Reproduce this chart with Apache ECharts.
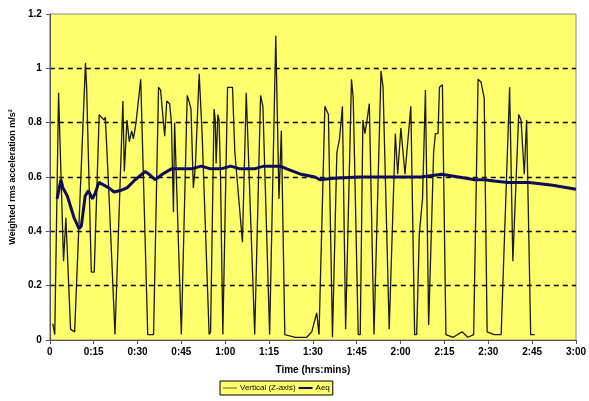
<!DOCTYPE html>
<html>
<head>
<meta charset="utf-8">
<script src="https://cdn.jsdelivr.net/npm/echarts@6/dist/echarts.min.js"></script>
<style>
  html, body { margin: 0; padding: 0; background: #fff; }
  #chart { width: 589px; height: 401px; }
</style>
</head>
<body>
<div id="chart"></div>
<script>
// time in minutes, values in m/s2
const vertTime = [1.0, 1.7, 3.0, 4.7, 5.5, 7.1, 8.5, 12.2, 12.6, 14.2, 15.2, 16.9, 17.6, 18.6, 19.0, 20.3, 20.6, 22.3,
  25.0, 25.5, 26.4, 27.2, 28.0, 28.6, 29.5, 31.1, 33.5, 35.5, 37.2, 37.9, 39.3, 40.0, 41.0, 41.6, 42.3, 42.7, 43.2,
  45.0, 47.0, 47.6, 48.3, 49.1, 49.8, 51.1, 52.1, 54.5, 55.0, 56.2, 56.6, 56.9, 57.5, 57.9, 58.4, 59.2,
  60.8, 62.5, 63.3, 65.9, 67.2, 70.1, 72.1, 72.9, 75.2, 77.3, 78.4, 79.2, 80.4, 84.0, 87.9, 89.6, 91.3, 92.1,
  94.1, 94.9, 95.3, 96.7, 97.3, 98.2, 99.1, 100.1, 101.2, 103.2, 103.8, 105.5, 106.2, 107.1, 107.8, 108.4, 109.3,
  110.9, 113.3, 114.0, 116.1, 118.2, 119.0, 120.1, 121.5, 123.5, 124.8, 125.5, 126.4, 127.5, 128.5, 129.6,
  131.3, 131.9, 132.8, 133.3, 134.3, 135.5, 138.0, 141.0, 143.0, 145.0, 146.5, 147.5, 148.6, 149.6, 152.0, 154.4,
  157.3, 158.4, 160.4, 161.2, 162.3, 163.1, 163.6, 164.5, 165.9];
const vertValue = [0.06, 0.02, 0.91, 0.29, 0.45, 0.04, 0.03, 1.02, 0.93, 0.25, 0.25, 0.83, 0.82, 0.81, 0.82, 0.52, 0.52, 0.02,
  0.88, 0.62, 0.81, 0.73, 0.77, 0.74, 0.80, 0.96, 0.02, 0.02, 0.93, 0.92, 0.75, 0.88, 0.87, 0.80, 0.47, 0.80, 0.80,
  0.02, 0.90, 0.88, 0.85, 0.56, 0.64, 0.98, 0.76, 0.02, 0.03, 0.85, 0.81, 0.65, 0.83, 0.81, 0.60, 0.02,
  0.93, 0.93, 0.69, 0.36, 0.91, 0.02, 0.90, 0.86, 0.02, 1.12, 0.52, 0.77, 0.02, 0.01, 0.01, 0.03, 0.10, 0.02,
  0.86, 0.84, 0.83, 0.01, 0.01, 0.69, 0.74, 0.86, 0.04, 0.96, 0.89, 0.02, 0.02, 0.81, 0.76, 0.80, 0.87,
  0.02, 0.99, 0.93, 0.04, 0.76, 0.61, 0.78, 0.61, 0.86, 0.02, 0.02, 0.39, 0.52, 0.92, 0.055,
  0.69, 0.76, 0.76, 0.93, 0.94, 0.02, 0.01, 0.03, 0.01, 0.02, 0.96, 0.95, 0.89, 0.03, 0.02, 0.02,
  0.93, 0.29, 0.83, 0.81, 0.61, 0.81, 0.81, 0.02, 0.02];

const aeqTime = [2.5, 3.8, 4.5, 6.0, 8.3, 10.0, 10.8, 12.1, 13.2, 14.6, 15.5, 16.8, 18.5, 20.2, 22.0, 24.1, 26.4, 29.2,
  32.6, 34.0, 36.0, 38.5, 41.6, 45.6, 48.5, 51.8, 55.0, 58.5, 61.9, 65.0, 70.0, 73.2, 78.8, 81.1, 86.0, 90.7, 92.4,
  97.0, 105.9, 113.8, 120.0, 127.0, 134.1, 139.8, 145.4, 148.8, 152.0, 156.7, 164.0, 172.0, 180.0];
const aeqValue = [0.52, 0.59, 0.56, 0.53, 0.45, 0.41, 0.42, 0.53, 0.55, 0.52, 0.54, 0.58, 0.57, 0.56, 0.545, 0.55, 0.56, 0.59,
  0.62, 0.61, 0.59, 0.61, 0.63, 0.63, 0.63, 0.64, 0.63, 0.63, 0.64, 0.63, 0.63, 0.64, 0.64, 0.63, 0.61, 0.60, 0.59,
  0.595, 0.60, 0.60, 0.60, 0.60, 0.61, 0.60, 0.59, 0.59, 0.585, 0.58, 0.58, 0.57, 0.555];

const xTickLabels = ['0', '0:15', '0:30', '0:45', '1:00', '1:15', '1:30', '1:45', '2:00', '2:15', '2:30', '2:45', '3:00'];
const seriesNames = ['Vertical (Z-axis)', 'Aeq'];

const chart = echarts.init(document.getElementById('chart'));

const font = 'Liberation Sans, Arial, sans-serif';

// plain line icons for the legend (thin / thick), the dots keep the box height
const thinIcon = 'path://M0,0 L0,0 M0,4.5 L20,4.5 L20,5.5 L0,5.5 Z M0,10 L0,10';
const thickIcon = 'path://M0,0 L0,0 M0,3.5 L20,3.5 L20,6.5 L0,6.5 Z M0,10 L0,10';

const option = {
  animation: false,
  textStyle: { fontFamily: font },
  grid: {
    left: 47, right: 9, top: 14, bottom: 61,
    show: true,
    backgroundColor: '#ffff6e',
    borderColor: '#8a8a8a',
    borderWidth: 1
  },
  legend: {
    data: [
      { name: seriesNames[0], icon: thinIcon },
      { name: seriesNames[1], icon: thickIcon }
    ],
    bottom: 6,
    left: 220,
    backgroundColor: '#ffff6e',
    borderColor: '#000',
    borderWidth: 1,
    padding: [3, 3],
    itemGap: 3,
    itemWidth: 14,
    itemHeight: 8,
    textStyle: { fontSize: 8, color: '#000', fontFamily: font, padding: [0, 0, 0, -2] }
  },
  xAxis: {
    type: 'value',
    min: 0,
    max: 180,
    interval: 15,
    name: 'Time (hrs:mins)',
    nameLocation: 'middle',
    nameGap: 25,
    nameTextStyle: { fontSize: 10, fontWeight: 'bold', color: '#000' },
    axisLine: { lineStyle: { color: '#555', width: 1 } },
    axisTick: { show: true, length: 4, lineStyle: { color: '#555' } },
    axisLabel: {
      fontSize: 10, fontWeight: 'bold', color: '#000', margin: 7,
      formatter: v => xTickLabels[Math.round(v / 15)]
    },
    splitLine: { show: false }
  },
  yAxis: {
    type: 'value',
    min: 0,
    max: 1.2,
    interval: 0.2,
    name: 'Weighted rms acceleration m/s²',
    nameLocation: 'middle',
    nameGap: 27,
    nameTextStyle: { fontSize: 9, fontWeight: 'bold', color: '#000' },
    axisLine: { show: true, lineStyle: { color: '#555', width: 1 } },
    axisTick: { show: true, length: 4, lineStyle: { color: '#555' } },
    axisLabel: {
      fontSize: 10, fontWeight: 'bold', color: '#000', margin: 8,
      formatter: v => String(Math.round(v * 10) / 10)
    },
    splitLine: {
      show: true,
      lineStyle: {
        color: ['transparent', '#000', '#000', '#000', '#000', '#000', 'transparent'],
        width: 1.3,
        type: [5, 4]
      }
    }
  },
  series: [
    {
      name: seriesNames[0],
      type: 'line',
      data: vertTime.map((t, i) => [t, vertValue[i]]),
      symbol: 'none',
      lineStyle: { color: '#1a1a1a', width: 1.3 },
      itemStyle: { color: '#1a1a1a' },
      z: 2
    },
    {
      name: seriesNames[1],
      type: 'line',
      data: aeqTime.map((t, i) => [t, aeqValue[i]]),
      symbol: 'none',
      lineStyle: { color: '#0c0c5a', width: 3 },
      itemStyle: { color: '#0c0c5a' },
      z: 3
    }
  ]
};

chart.setOption(option);
</script>
</body>
</html>
